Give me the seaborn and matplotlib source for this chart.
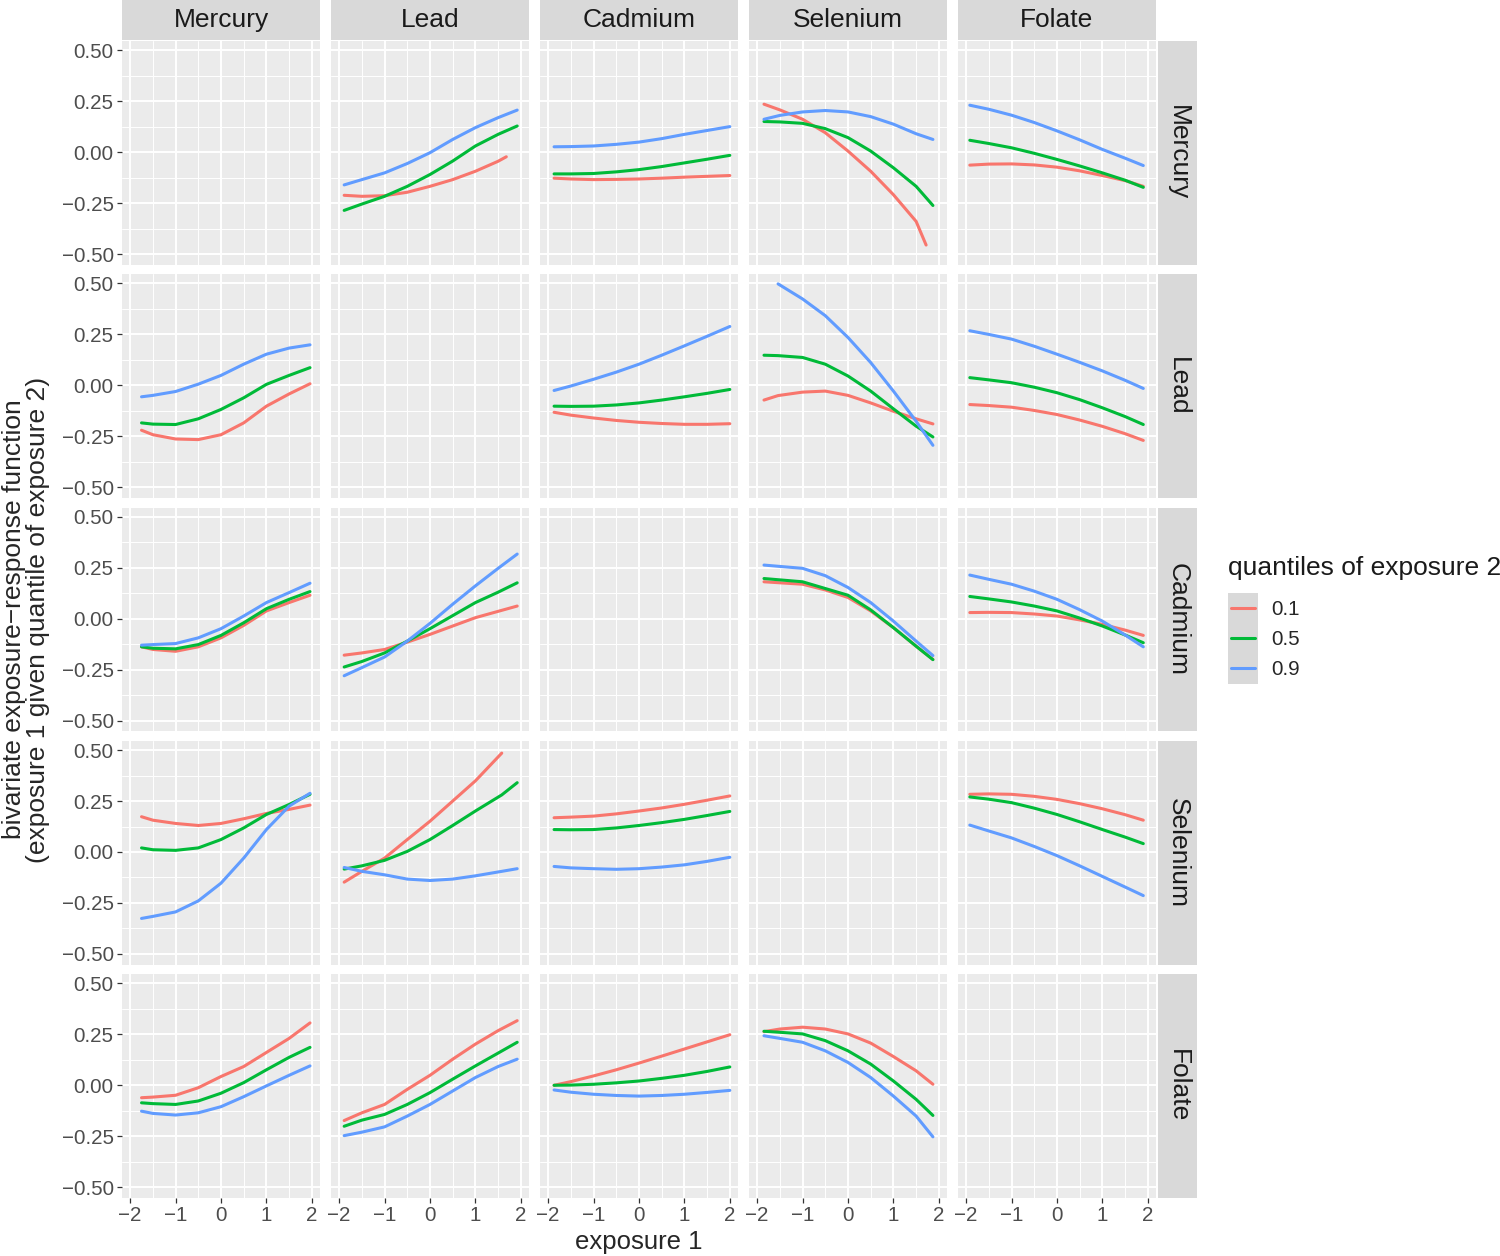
import pandas as pd
import seaborn as sns
import matplotlib.pyplot as plt
from matplotlib.patches import Rectangle
from matplotlib.lines import Line2D

METALS = ["Mercury", "Lead", "Cadmium", "Selenium", "Folate"]
QUANTILES = ["0.1", "0.5", "0.9"]
COLORS = ["#F8766D", "#00BA38", "#619CFF"]
X_TICKS = [-2, -1, 0, 1, 2]
X_TICK_LABELS = ["\u22122", "\u22121", "0", "1", "2"]
Y_TICKS = [-0.5, -0.25, 0, 0.25, 0.5]
Y_TICK_LABELS = ["\u22120.50", "\u22120.25", "0.00", "0.25", "0.50"]

# panel values, name = <exposure 2 (row)>_<exposure 1 (column)>
# row Mercury
HG_PB = dict(x=[-1.89, -1.5, -1, -0.5, 0, 0.5, 1, 1.5, 1.68, 1.92],
             q1=[-0.212, -0.217, -0.214, -0.197, -0.168, -0.135, -0.094, -0.045, -0.023, None],
             q5=[-0.286, -0.255, -0.217, -0.168, -0.110, -0.044, 0.030, 0.087, None, 0.128],
             q9=[-0.161, -0.135, -0.102, -0.056, -0.003, 0.062, 0.120, 0.169, None, 0.206])
HG_CD = dict(x=[-1.87, -1.5, -1, -0.5, 0, 0.5, 1, 1.5, 2],
             q1=[-0.128, -0.132, -0.135, -0.134, -0.132, -0.128, -0.123, -0.119, -0.115],
             q5=[-0.107, -0.107, -0.105, -0.097, -0.086, -0.071, -0.053, -0.035, -0.016],
             q9=[0.026, 0.027, 0.030, 0.038, 0.049, 0.066, 0.087, 0.106, 0.125])
HG_SE = dict(x=[-1.85, -1.5, -1, -0.5, 0, 0.5, 1, 1.5, 1.72, 1.87],
             q1=[0.235, 0.207, 0.161, 0.095, 0.005, -0.094, -0.209, -0.340, -0.456, None],
             q5=[0.150, 0.148, 0.141, 0.115, 0.071, 0.005, -0.077, -0.168, None, -0.262],
             q9=[0.161, 0.180, 0.197, 0.204, 0.197, 0.174, 0.137, 0.090, None, 0.062])
HG_FO = dict(x=[-1.92, -1.5, -1, -0.5, 0, 0.5, 1, 1.5, 1.9],
             q1=[-0.064, -0.059, -0.058, -0.063, -0.074, -0.092, -0.115, -0.140, -0.168],
             q5=[0.058, 0.042, 0.021, -0.006, -0.036, -0.068, -0.102, -0.138, -0.173],
             q9=[0.230, 0.210, 0.181, 0.145, 0.104, 0.060, 0.013, -0.030, -0.066])
# row Lead
PB_HG = dict(x=[-1.75, -1.5, -1, -0.5, 0, 0.5, 1, 1.5, 1.96],
             q1=[-0.220, -0.242, -0.263, -0.266, -0.242, -0.184, -0.102, -0.042, 0.008],
             q5=[-0.184, -0.190, -0.192, -0.164, -0.118, -0.061, 0.005, 0.049, 0.087],
             q9=[-0.056, -0.049, -0.030, 0.006, 0.049, 0.104, 0.153, 0.183, 0.199])
PB_CD = dict(x=[-1.87, -1.5, -1, -0.5, 0, 0.5, 1, 1.5, 2],
             q1=[-0.132, -0.146, -0.160, -0.172, -0.181, -0.187, -0.191, -0.191, -0.188],
             q5=[-0.102, -0.103, -0.102, -0.096, -0.086, -0.072, -0.056, -0.039, -0.020],
             q9=[-0.025, -0.003, 0.030, 0.065, 0.104, 0.148, 0.194, 0.241, 0.289])
PB_SE = dict(x=[-1.85, -1.54, -1, -0.5, 0, 0.5, 1, 1.5, 1.87],
             q1=[-0.072, -0.050, -0.033, -0.028, -0.049, -0.086, -0.127, -0.164, -0.189],
             q5=[0.148, 0.146, 0.137, 0.104, 0.046, -0.028, -0.115, -0.200, -0.253],
             q9=[None, 0.498, 0.424, 0.342, 0.235, 0.112, -0.028, -0.176, -0.294])
PB_FO = dict(x=[-1.92, -1.5, -1, -0.5, 0, 0.5, 1, 1.5, 1.9],
             q1=[-0.094, -0.099, -0.107, -0.123, -0.143, -0.170, -0.201, -0.237, -0.270],
             q5=[0.038, 0.027, 0.013, -0.009, -0.036, -0.070, -0.110, -0.153, -0.192],
             q9=[0.268, 0.250, 0.227, 0.192, 0.153, 0.113, 0.071, 0.025, -0.015])
# row Cadmium
CD_HG = dict(x=[-1.75, -1.5, -1, -0.5, 0, 0.5, 1, 1.5, 1.96],
             q1=[-0.138, -0.151, -0.160, -0.138, -0.094, -0.033, 0.038, 0.079, 0.115],
             q5=[-0.138, -0.145, -0.148, -0.127, -0.082, -0.020, 0.049, 0.095, 0.133],
             q9=[-0.130, -0.127, -0.122, -0.094, -0.049, 0.013, 0.079, 0.128, 0.174])
CD_PB = dict(x=[-1.89, -1.5, -1, -0.5, 0, 0.5, 1, 1.5, 1.92],
             q1=[-0.179, -0.168, -0.151, -0.115, -0.077, -0.036, 0.005, 0.036, 0.062],
             q5=[-0.237, -0.210, -0.168, -0.110, -0.049, 0.015, 0.079, 0.130, 0.176],
             q9=[-0.280, -0.240, -0.188, -0.110, -0.023, 0.071, 0.161, 0.247, 0.317])
CD_SE = dict(x=[-1.85, -1, -0.5, 0, 0.5, 1, 1.5, 1.87],
             q1=[0.181, 0.169, 0.141, 0.104, 0.038, -0.044, -0.135, -0.200],
             q5=[0.197, 0.181, 0.148, 0.115, 0.043, -0.044, -0.135, -0.201],
             q9=[0.263, 0.247, 0.211, 0.153, 0.079, -0.012, -0.110, -0.181])
CD_FO = dict(x=[-1.92, -1.5, -1, -0.5, 0, 0.5, 1, 1.5, 1.9],
             q1=[0.030, 0.031, 0.030, 0.023, 0.013, -0.006, -0.028, -0.056, -0.082],
             q5=[0.109, 0.097, 0.082, 0.062, 0.038, 0.003, -0.036, -0.080, -0.118],
             q9=[0.214, 0.193, 0.169, 0.135, 0.095, 0.044, -0.012, -0.080, -0.138])
# row Selenium
SE_HG = dict(x=[-1.75, -1.5, -1, -0.5, 0, 0.5, 1, 1.5, 1.96],
             q1=[0.173, 0.156, 0.140, 0.130, 0.140, 0.163, 0.189, 0.209, 0.230],
             q5=[0.020, 0.011, 0.008, 0.020, 0.061, 0.118, 0.184, 0.233, 0.283],
             q9=[-0.326, -0.316, -0.294, -0.240, -0.153, -0.030, 0.110, 0.225, 0.288])
SE_PB = dict(x=[-1.89, -1.5, -1, -0.5, 0, 0.5, 1, 1.58, 1.92],
             q1=[-0.148, -0.095, -0.030, 0.061, 0.151, 0.250, 0.349, 0.485, None],
             q5=[-0.084, -0.068, -0.041, 0.003, 0.061, 0.130, 0.201, 0.280, 0.340],
             q9=[-0.076, -0.095, -0.112, -0.133, -0.140, -0.133, -0.117, -0.095, -0.082])
SE_CD = dict(x=[-1.87, -1.5, -1, -0.5, 0, 0.5, 1, 1.5, 2],
             q1=[0.168, 0.171, 0.176, 0.187, 0.201, 0.216, 0.234, 0.254, 0.275],
             q5=[0.110, 0.109, 0.110, 0.118, 0.130, 0.144, 0.160, 0.179, 0.199],
             q9=[-0.071, -0.078, -0.082, -0.085, -0.082, -0.074, -0.063, -0.046, -0.026])
SE_FO = dict(x=[-1.92, -1.5, -1, -0.5, 0, 0.5, 1, 1.5, 1.9],
             q1=[0.283, 0.285, 0.283, 0.273, 0.258, 0.237, 0.212, 0.183, 0.156],
             q5=[0.270, 0.259, 0.242, 0.215, 0.184, 0.148, 0.110, 0.073, 0.041],
             q9=[0.132, 0.103, 0.069, 0.027, -0.018, -0.068, -0.120, -0.172, -0.214])
# row Folate
FO_HG = dict(x=[-1.75, -1.5, -1, -0.5, 0, 0.5, 1, 1.5, 1.96],
             q1=[-0.061, -0.058, -0.049, -0.012, 0.043, 0.092, 0.161, 0.230, 0.306],
             q5=[-0.086, -0.090, -0.094, -0.077, -0.039, 0.013, 0.076, 0.137, 0.186],
             q9=[-0.127, -0.138, -0.146, -0.135, -0.105, -0.056, -0.003, 0.049, 0.095])
FO_PB = dict(x=[-1.89, -1.5, -1, -0.5, 0, 0.5, 1, 1.5, 1.92],
             q1=[-0.173, -0.135, -0.094, -0.020, 0.049, 0.128, 0.202, 0.268, 0.317],
             q5=[-0.201, -0.171, -0.143, -0.094, -0.036, 0.030, 0.095, 0.158, 0.211],
             q9=[-0.247, -0.230, -0.204, -0.151, -0.094, -0.028, 0.038, 0.092, 0.128])
FO_CD = dict(x=[-1.87, -1.5, -1, -0.5, 0, 0.5, 1, 1.5, 2],
             q1=[0.000, 0.018, 0.046, 0.076, 0.109, 0.143, 0.178, 0.213, 0.248],
             q5=[0.000, 0.001, 0.005, 0.012, 0.021, 0.034, 0.049, 0.068, 0.090],
             q9=[-0.023, -0.034, -0.044, -0.050, -0.053, -0.050, -0.044, -0.035, -0.025])
FO_SE = dict(x=[-1.85, -1.5, -1, -0.5, 0, 0.5, 1, 1.5, 1.87],
             q1=[0.263, 0.276, 0.285, 0.276, 0.252, 0.207, 0.141, 0.071, 0.005],
             q5=[0.265, 0.260, 0.252, 0.219, 0.169, 0.104, 0.021, -0.069, -0.148],
             q9=[0.243, 0.230, 0.211, 0.169, 0.112, 0.038, -0.053, -0.151, -0.253])

PANELS = {
    ("Mercury", "Lead"): HG_PB, ("Mercury", "Cadmium"): HG_CD,
    ("Mercury", "Selenium"): HG_SE, ("Mercury", "Folate"): HG_FO,
    ("Lead", "Mercury"): PB_HG, ("Lead", "Cadmium"): PB_CD,
    ("Lead", "Selenium"): PB_SE, ("Lead", "Folate"): PB_FO,
    ("Cadmium", "Mercury"): CD_HG, ("Cadmium", "Lead"): CD_PB,
    ("Cadmium", "Selenium"): CD_SE, ("Cadmium", "Folate"): CD_FO,
    ("Selenium", "Mercury"): SE_HG, ("Selenium", "Lead"): SE_PB,
    ("Selenium", "Cadmium"): SE_CD, ("Selenium", "Folate"): SE_FO,
    ("Folate", "Mercury"): FO_HG, ("Folate", "Lead"): FO_PB,
    ("Folate", "Cadmium"): FO_CD, ("Folate", "Selenium"): FO_SE,
}

records = []
for (exp2, exp1), d in PANELS.items():
    for q, key in zip(QUANTILES, ["q1", "q5", "q9"]):
        for xv, yv in zip(d["x"], d[key]):
            if yv is not None:
                records.append((exp2, exp1, q, xv, yv))
df = pd.DataFrame(records, columns=["exp2", "exp1", "quantile", "x", "y"])

sns.set_style("darkgrid")
plt.rcParams["font.family"] = ["Liberation Sans", "DejaVu Sans"]

W, H = 1500, 1256
fig, axes = plt.subplots(5, 5, figsize=(W / 100, H / 100), dpi=100, sharex=True, sharey=True)
fig.subplots_adjust(left=122 / W, right=1156 / W, top=1 - 41 / H, bottom=1 - 1198 / H,
                    wspace=11 / 198, hspace=9.5 / 224)
palette = dict(zip(QUANTILES, COLORS))

for i, exp2 in enumerate(METALS):
    for j, exp1 in enumerate(METALS):
        ax = axes[i, j]
        ax.set_facecolor("#EBEBEB")
        sub = df[(df["exp2"] == exp2) & (df["exp1"] == exp1)]
        if len(sub):
            sns.lineplot(data=sub, x="x", y="y", hue="quantile", hue_order=QUANTILES,
                         palette=palette, estimator=None, sort=True, legend=False,
                         linewidth=2.2, ax=ax)
        ax.set_xlim(-2.18, 2.18)
        ax.set_ylim(-0.553, 0.545)
        ax.set_xticks(X_TICKS)
        ax.set_xticklabels(X_TICK_LABELS)
        ax.set_yticks(Y_TICKS)
        ax.set_yticklabels(Y_TICK_LABELS)
        ax.set_xticks([-1.5, -0.5, 0.5, 1.5], minor=True)
        ax.set_yticks([-0.375, -0.125, 0.125, 0.375], minor=True)
        ax.grid(which="major", color="white", linewidth=1.4)
        ax.grid(which="minor", color="white", linewidth=0.7)
        ax.set_axisbelow(True)
        for s in ax.spines.values():
            s.set_visible(False)
        ax.set_xlabel("")
        ax.set_ylabel("")
        ax.tick_params(which="major", length=3.5, width=0.9, color="#333333",
                       labelsize=14.8, labelcolor="#4D4D4D", pad=2.5,
                       left=(j == 0), bottom=(i == 4),
                       labelleft=(j == 0), labelbottom=(i == 4))
        ax.tick_params(which="minor", length=0)

        if i == 0:
            ax.add_patch(Rectangle((0, 1 + 1 / 224), 1, 40 / 224, transform=ax.transAxes,
                                   facecolor="#D9D9D9", edgecolor="none", clip_on=False))
            ax.text(0.5, 1 + 21 / 224, exp1, transform=ax.transAxes, ha="center",
                    va="center", fontsize=19, color="#1A1A1A")
        if j == 4:
            ax.add_patch(Rectangle((1 + 2 / 198, 0), 39 / 198, 1, transform=ax.transAxes,
                                   facecolor="#D9D9D9", edgecolor="none", clip_on=False))
            ax.text(1 + 21.5 / 198, 0.5, exp2, transform=ax.transAxes, ha="center",
                    va="center", rotation=-90, fontsize=19, color="#1A1A1A")

fig.text(26 / W, 1 - 619.5 / H,
         "bivariate exposure\u2212response function\n(exposure 1 given quantile of exposure 2)",
         rotation=90, ha="center", va="center", fontsize=19, linespacing=1.0)
fig.text(639 / W, 1 - 1242 / H, "exposure 1", ha="center", va="center", fontsize=18.5)

# legend
fig.text(1228 / W, 1 - 568 / H, "quantiles of exposure 2", ha="left", va="center",
         fontsize=19, color="#1A1A1A")
fig.patches.append(Rectangle((1228 / W, 1 - 684 / H), 30 / W, 91 / H, transform=fig.transFigure,
                             facecolor="#D9D9D9", edgecolor="none", figure=fig))
handles = [Line2D([], [], color=c, linewidth=2.2) for c in COLORS]
fig.legend(handles, QUANTILES, loc="upper left", bbox_to_anchor=(1230.5 / W, 1 - 600 / H),
           frameon=False, fontsize=14.8, handlelength=1.2, handletextpad=0.8,
           labelspacing=0.54, borderpad=0, borderaxespad=0)

fig.savefig("out.png", dpi=100)
